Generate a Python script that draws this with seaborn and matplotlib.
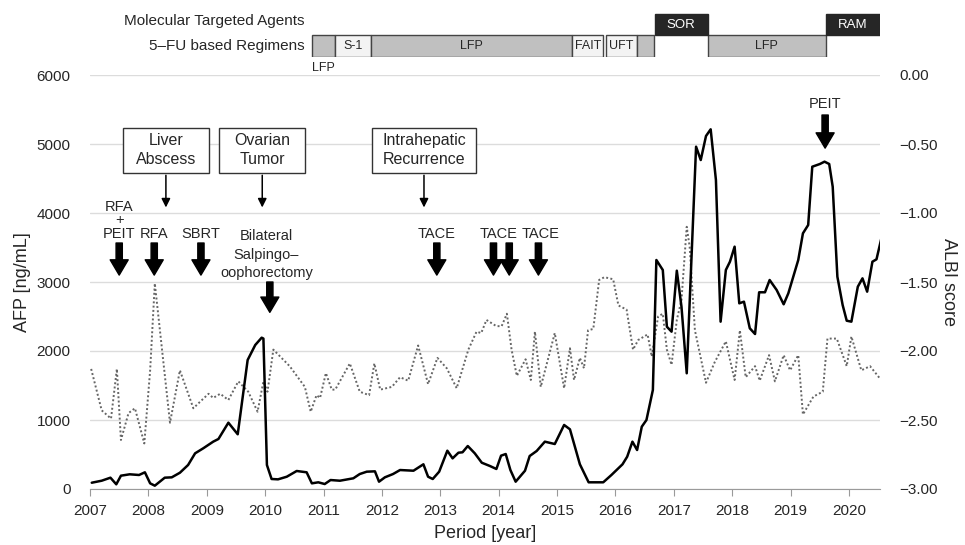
import matplotlib
matplotlib.use("Agg")
import matplotlib.pyplot as plt
import matplotlib.ticker as mticker
from matplotlib.patches import Rectangle
import seaborn as sns
import pandas as pd

# ----------------------------
# DATA
# ----------------------------
afp_year = [
    2007.03, 2007.20, 2007.35, 2007.45, 2007.53, 2007.68, 2007.84, 2007.94, 2008.03, 2008.11,
    2008.28, 2008.40, 2008.54, 2008.68, 2008.80, 2008.94, 2009.11, 2009.20, 2009.37, 2009.53,
    2009.70, 2009.83, 2009.94, 2009.97, 2010.03, 2010.11, 2010.22, 2010.37, 2010.54, 2010.71,
    2010.80, 2010.91, 2011.02, 2011.12, 2011.28, 2011.51, 2011.62, 2011.74, 2011.88, 2011.95,
    2012.05, 2012.19, 2012.31, 2012.54, 2012.71, 2012.79, 2012.87, 2012.98, 2013.12, 2013.21,
    2013.31, 2013.38, 2013.47, 2013.59, 2013.71, 2013.85, 2013.96, 2014.04, 2014.12, 2014.20,
    2014.29, 2014.45, 2014.53, 2014.65, 2014.79, 2014.96, 2015.12, 2015.22, 2015.39, 2015.54,
    2015.79, 2015.93, 2016.12, 2016.20, 2016.29, 2016.37, 2016.45, 2016.53, 2016.64, 2016.70,
    2016.81, 2016.88, 2016.96, 2017.05, 2017.13, 2017.22, 2017.38, 2017.46, 2017.55, 2017.63,
    2017.72, 2017.80, 2017.89, 2017.96, 2018.04, 2018.12, 2018.20, 2018.30, 2018.39, 2018.46,
    2018.56, 2018.64, 2018.76, 2018.88, 2018.96, 2019.13, 2019.21, 2019.30, 2019.37, 2019.50,
    2019.58, 2019.66, 2019.72, 2019.80, 2019.89, 2019.96, 2020.04, 2020.15, 2020.23, 2020.31,
    2020.40, 2020.47, 2020.56,
]
afp_value = [
    91, 120, 164, 68, 193, 213, 203, 242, 82, 48,
    164, 169, 236, 348, 517, 590, 686, 725, 961, 793,
    1870, 2087, 2193, 2180, 348, 145, 140, 178, 261, 242,
    82, 97, 72, 130, 120, 155, 217, 251, 256, 106,
    169, 217, 275, 265, 358, 178, 145, 251, 555, 444,
    526, 532, 623, 517, 381, 333, 290, 483, 507, 275,
    106, 265, 478, 551, 686, 652, 928, 865, 358, 97,
    97, 203, 358, 468, 686, 565, 903, 1000, 1435, 3319,
    3174, 2352, 2280, 3164, 2642, 1677, 4961, 4768, 5116, 5213,
    4478, 2425, 3174, 3294, 3512, 2691, 2715, 2329, 2246, 2851,
    2851, 3029, 2884, 2677, 2836, 3319, 3705, 3826, 4671, 4710,
    4744, 4710, 4381, 3077, 2667, 2439, 2425, 2932, 3053, 2860,
    3294, 3329, 3657,
]

albi_year = [
    2007.02, 2007.20, 2007.36, 2007.46, 2007.53, 2007.66, 2007.77, 2007.93, 2008.03, 2008.11,
    2008.37, 2008.54, 2008.77, 2008.88, 2009.03, 2009.11, 2009.23, 2009.37, 2009.54, 2009.71,
    2009.87, 2009.97, 2010.04, 2010.14, 2010.42, 2010.68, 2010.78, 2010.88, 2010.94, 2011.04,
    2011.14, 2011.20, 2011.45, 2011.62, 2011.78, 2011.87, 2011.97, 2012.17, 2012.31, 2012.45,
    2012.62, 2012.79, 2012.95, 2013.11, 2013.28, 2013.48, 2013.62, 2013.70, 2013.79, 2013.96,
    2014.05, 2014.14, 2014.22, 2014.31, 2014.46, 2014.55, 2014.62, 2014.72, 2014.96, 2015.12,
    2015.22, 2015.29, 2015.39, 2015.46, 2015.53, 2015.62, 2015.72, 2015.81, 2015.96, 2016.05,
    2016.19, 2016.30, 2016.39, 2016.55, 2016.62, 2016.73, 2016.81, 2016.88, 2016.96, 2017.05,
    2017.13, 2017.22, 2017.27, 2017.36, 2017.55, 2017.70, 2017.89, 2018.04, 2018.13, 2018.23,
    2018.39, 2018.47, 2018.63, 2018.73, 2018.88, 2018.99, 2019.13, 2019.21, 2019.39, 2019.55,
    2019.63, 2019.79, 2019.96, 2020.04, 2020.21, 2020.36, 2020.53,
]
albi_value = [
    -2.13, -2.43, -2.49, -2.13, -2.645, -2.45, -2.415, -2.67, -2.14, -1.51,
    -2.52, -2.14, -2.415, -2.37, -2.31, -2.34, -2.31, -2.355, -2.22, -2.295,
    -2.44, -2.22, -2.295, -1.99, -2.11, -2.26, -2.44, -2.32, -2.34, -2.16,
    -2.28, -2.28, -2.09, -2.295, -2.32, -2.09, -2.28, -2.26, -2.19, -2.215,
    -1.96, -2.24, -2.05, -2.125, -2.27, -1.99, -1.86, -1.87, -1.775, -1.82,
    -1.82, -1.73, -1.99, -2.18, -2.06, -2.21, -1.86, -2.26, -1.87, -2.27,
    -1.98, -2.21, -2.05, -2.125, -1.85, -1.84, -1.485, -1.465, -1.48, -1.67,
    -1.70, -1.99, -1.92, -1.88, -2.04, -1.75, -1.73, -1.99, -2.10, -1.775,
    -1.63, -1.10, -1.245, -1.85, -2.23, -2.08, -1.93, -2.21, -1.85, -2.19,
    -2.11, -2.215, -2.03, -2.22, -2.03, -2.14, -2.03, -2.46, -2.33, -2.295,
    -1.91, -1.91, -2.11, -1.895, -2.14, -2.11, -2.20,
]

# treatment bars
fu_start = [2010.80, 2011.20, 2011.81, 2015.26, 2015.83, 2016.36, 2017.58]
fu_end = [2011.20, 2011.81, 2015.26, 2015.79, 2016.36, 2016.66, 2019.60]
fu_label = ["", "S-1", "LFP", "FAIT", "UFT", "", "LFP"]
mta_start = [2016.67, 2019.60]
mta_end = [2017.58, 2020.54]
mta_label = ["SOR", "RAM"]

# events
box_label = ["Liver\nAbscess", "Ovarian\nTumor", "Intrahepatic\nRecurrence"]
box_year = [2008.30, 2009.95, 2012.72]
event_label = ["RFA\n+\nPEIT", "RFA", "SBRT", "TACE", "TACE", "TACE"]
event_text_year = [2007.50, 2008.10, 2008.90, 2012.94, 2014.00, 2014.71]
arrow_year = [2007.50, 2008.10, 2008.90, 2012.94, 2013.91, 2014.18, 2014.68]

years = list(range(2007, 2021))

# ----------------------------
# STYLE
# ----------------------------
sns.set_style("white")
plt.rcParams["font.family"] = ["Liberation Sans", "DejaVu Sans"]

fig = plt.figure(figsize=(9.65, 5.45), dpi=100)
ax = fig.add_axes([90 / 965, 56 / 545, 790 / 965, 414 / 545])
ax2 = ax.twinx()
# AFP axis drawn above the ALBI axis
ax.set_zorder(ax2.get_zorder() + 1)
ax.patch.set_visible(False)

afp_df = pd.DataFrame({"year": afp_year, "afp": afp_value})
albi_df = pd.DataFrame({"year": albi_year, "albi": albi_value})

sns.lineplot(data=albi_df, x="year", y="albi", ax=ax2, estimator=None,
             color="#666666", lw=1.4, linestyle=(0, (1, 1.2)))
sns.lineplot(data=afp_df, x="year", y="afp", ax=ax, estimator=None,
             color="black", lw=1.8)

xmax = 2020.53
ax.set_xlim(2007, xmax)
ax.set_ylim(0, 6000)
ax2.set_ylim(-3, 0)
ax.set_yticks(range(0, 6001, 1000))
ax2.set_yticks([-3, -2.5, -2, -1.5, -1, -0.5, 0])
ax2.yaxis.set_major_formatter(mticker.FuncFormatter(lambda v, p: f"{v:.2f}".replace("-", "\u2212")))
ax.set_xticks(years)

ax.grid(False)
ax2.grid(axis="y", color="#dcdcdc", lw=1)
ax2.grid(axis="x", visible=False)
for a in (ax, ax2):
    for s in ["top", "left", "right", "bottom"]:
        a.spines[s].set_visible(False)
ax.spines["bottom"].set_visible(True)
ax.spines["bottom"].set_color("#9a9a9a")

ax.tick_params(axis="y", length=0, pad=14, labelsize=11)
ax2.tick_params(axis="y", length=0, pad=14, labelsize=11)
ax.tick_params(axis="x", length=5, color="#9a9a9a", direction="out", pad=6, labelsize=11,
               bottom=True)

ax.set_xlabel("Period [year]", fontsize=13, labelpad=5)
ax.set_ylabel("AFP [ng/mL]", fontsize=13, labelpad=4)
ax2.set_ylabel("ALBI score", fontsize=13, rotation=270, labelpad=14)

# ----------------------------
# ANNOTATIONS
# ----------------------------
thick = dict(facecolor="black", edgecolor="black", width=4.5, headwidth=13, headlength=11, shrink=0)
thin = dict(arrowstyle="-|>", color="black", lw=1.1, mutation_scale=13)

fig.canvas.draw()
renderer = fig.canvas.get_renderer()
to_data = ax.transData.inverted()
for lab, xv in zip(box_label, box_year):
    t = ax.text(xv, 4913, lab, ha="center", va="center", fontsize=11.5, linespacing=1.35)
    ext = t.get_window_extent(renderer)
    cx, cy = ax.transData.transform((xv, 4913))
    w = max(ext.width + 20, 86)
    h = 45
    (x0, y0), (x1, y1) = to_data.transform([(cx - w / 2, cy - h / 2), (cx + w / 2, cy + h / 2)])
    ax.add_patch(Rectangle((x0, y0), x1 - x0, y1 - y0, fc="white", ec="#333333", lw=1, zorder=1))
    t.set_zorder(3)
    ax.annotate("", xy=(xv, 4040), xytext=(xv, y0), arrowprops=thin)

for lab, xv in zip(event_label, event_text_year):
    ax.text(xv, 3600, lab, ha="center", va="bottom", fontsize=10.5, linespacing=0.95)

for xv in arrow_year:
    ax.annotate("", xy=(xv, 3100), xytext=(xv, 3565), arrowprops=thick)

ax.text(2010.02, 3030, "Bilateral\nSalpingo\u2013\noophorectomy", ha="center", va="bottom",
        fontsize=10.5, linespacing=1.4)
ax.annotate("", xy=(2010.08, 2560), xytext=(2010.08, 3000), arrowprops=thick)

ax.text(2019.59, 5480, "PEIT", ha="center", va="bottom", fontsize=10.5)
ax.annotate("", xy=(2019.59, 4940), xytext=(2019.59, 5420), arrowprops=thick)

# ----------------------------
# TREATMENT BARS
# ----------------------------
axt = fig.add_axes([90 / 965, 1 - 57 / 545, 790 / 965, 45 / 545])
axt.set_xlim(2007, xmax)
axt.set_ylim(0, 2)
axt.axis("off")

light = {"S-1", "FAIT", "UFT"}
for s, e, lab in zip(fu_start, fu_end, fu_label):
    fc = "#f3f3f3" if lab in light else "#c0c0c0"
    axt.barh(0.5, e - s, left=s, height=1, color=fc, edgecolor="#444444", lw=1)
    if lab:
        axt.text((s + e) / 2, 0.5, lab, ha="center", va="center", fontsize=9)
axt.text((fu_start[0] + fu_end[0]) / 2, -0.5, "LFP", ha="center", va="center", fontsize=9)

for s, e, lab in zip(mta_start, mta_end, mta_label):
    axt.barh(1.45, e - s, left=s, height=0.95, color="#262626", edgecolor="#262626", lw=1)
    axt.text((s + e) / 2, 1.4, lab, ha="center", va="center", fontsize=9.5, color="white")

axt.text(2010.68, 1.6, "Molecular Targeted Agents", ha="right", va="center", fontsize=11)
axt.text(2010.68, 0.5, "5\u2013FU based Regimens", ha="right", va="center", fontsize=11)

fig.savefig("out.png", dpi=100)
